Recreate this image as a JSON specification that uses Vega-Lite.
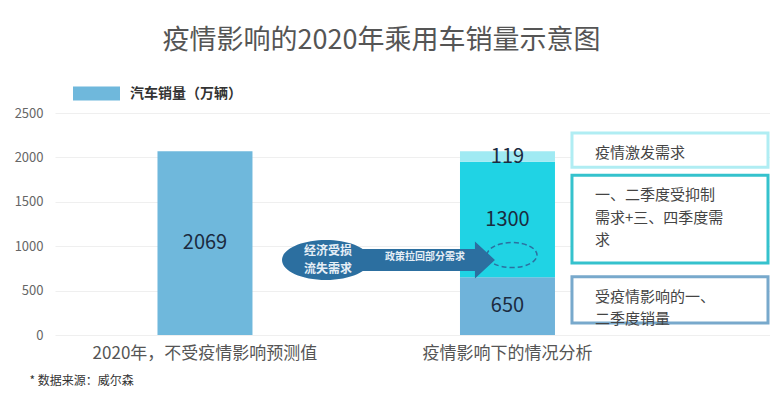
{
  "$schema": "https://vega.github.io/schema/vega-lite/v6.json",
  "width": 715,
  "height": 222,
  "autosize": {"type": "none"},
  "padding": {"left": 55, "top": 113, "right": 0, "bottom": 70},
  "background": "white",
  "config": {
    "font": "Noto Sans CJK SC",
    "view": {"stroke": null},
    "axis": {"labelFont": "Noto Sans CJK SC", "titleFont": "Noto Sans CJK SC"},
    "legend": {"labelFont": "Noto Sans CJK SC"}
  },
  "title": {
    "text": "疫情影响的2020年乘用车销量示意图",
    "fontSize": 27,
    "fontWeight": "normal",
    "color": "#555555",
    "anchor": "middle",
    "dx": -31,
    "offset": 15
  },
  "datasets": {
    "sales": [
      {"category": "2020年，不受疫情影响预测值", "segment": "预测销量", "order": 1, "value": 2069},
      {"category": "疫情影响下的情况分析", "segment": "受疫情影响的一、二季度销量", "order": 1, "value": 650},
      {"category": "疫情影响下的情况分析", "segment": "一、二季度受抑制需求+三、四季度需求", "order": 2, "value": 1300},
      {"category": "疫情影响下的情况分析", "segment": "疫情激发需求", "order": 3, "value": 119}
    ],
    "notes": [
      {"category": "说明", "segment": "疫情激发需求", "note": "疫情激发需求", "low": 1890, "high": 2275},
      {"category": "说明", "segment": "一、二季度受抑制需求+三、四季度需求", "note": "一、二季度受抑制\n需求+三、四季度需\n求", "low": 810, "high": 1800},
      {"category": "说明", "segment": "受疫情影响的一、二季度销量", "note": "受疫情影响的一、\n二季度销量", "low": 135, "high": 655}
    ],
    "arrow": [
      {"category": "政策拉回", "loss": "经济受损\n流失需求", "policy": "政策拉回部分需求"}
    ]
  },
  "layer": [
    {
      "data": {"name": "sales"},
      "transform": [
        {"stack": "value", "groupby": ["category"], "sort": [{"field": "order", "order": "ascending"}], "as": ["v0", "v1"]}
      ],
      "mark": {"type": "bar", "width": {"band": 0.628}},
      "encoding": {
        "x": {
          "field": "category",
          "type": "nominal",
          "sort": null,
          "scale": {
            "domain": ["2020年，不受疫情影响预测值", "政策拉回", "疫情影响下的情况分析", "说明"],
            "paddingInner": 0,
            "paddingOuter": 0.3636,
            "align": 0.676
          },
          "axis": {
            "values": ["2020年，不受疫情影响预测值", "疫情影响下的情况分析"],
            "labelAngle": 0,
            "domain": false,
            "ticks": false,
            "grid": false,
            "labelFontSize": 17,
            "labelColor": "#555555",
            "labelPadding": 10,
            "labelLimit": 400,
            "title": "* 数据来源：威尔森",
            "titleFontSize": 12,
            "titleFontWeight": "normal",
            "titleColor": "#333333",
            "titleAnchor": "start",
            "titleAlign": "left",
            "titleBaseline": "middle",
            "titleX": -26,
            "titleY": 45
          }
        },
        "y": {
          "field": "v0",
          "type": "quantitative",
          "scale": {"domain": [0, 2500], "nice": false},
          "axis": {
            "values": [0, 500, 1000, 1500, 2000, 2500],
            "format": "d",
            "domain": false,
            "ticks": false,
            "grid": true,
            "gridColor": "#efefef",
            "gridWidth": 1,
            "labelFontSize": 13,
            "labelColor": "#666666",
            "labelPadding": 12,
            "title": null
          }
        },
        "y2": {"field": "v1"},
        "color": {
          "field": "segment",
          "type": "nominal",
          "scale": {
            "domain": ["预测销量", "受疫情影响的一、二季度销量", "一、二季度受抑制需求+三、四季度需求", "疫情激发需求"],
            "range": ["#6fb8dc", "#6fb3da", "#20d3e4", "#a0eaf3"]
          },
          "legend": {
            "values": ["预测销量"],
            "labelExpr": "'汽车销量（万辆）'",
            "title": null,
            "orient": "none",
            "legendX": 18,
            "legendY": -43,
            "padding": 0,
            "symbolType": "M-1,-0.3L1,-0.3L1,0.3L-1,0.3Z",
            "symbolSize": 2209,
            "symbolStrokeWidth": 0,
            "symbolOpacity": 1,
            "labelFontSize": 14,
            "labelFontWeight": "bold",
            "labelColor": "#333333",
            "labelOffset": 10
          }
        }
      }
    },
    {
      "data": {"name": "sales"},
      "transform": [
        {"stack": "value", "groupby": ["category"], "sort": [{"field": "order", "order": "ascending"}], "as": ["v0", "v1"]},
        {"calculate": "(datum.v0 + datum.v1) / 2", "as": "mid"}
      ],
      "mark": {"type": "text", "fontSize": 20, "color": "#1b2b40", "baseline": "middle", "align": "center"},
      "encoding": {
        "x": {"field": "category", "type": "nominal"},
        "y": {"field": "mid", "type": "quantitative"},
        "text": {"field": "value", "type": "quantitative"}
      }
    },
    {
      "data": {"name": "arrow"},
      "mark": {
        "type": "point",
        "shape": "M-0.995,0 C-0.995,-0.103 -0.811,-0.187 -0.584,-0.187 C-0.357,-0.187 -0.173,-0.103 -0.173,0 C-0.173,0.103 -0.357,0.187 -0.584,0.187 C-0.811,0.187 -0.995,0.103 -0.995,0 Z M-0.3,-0.103 L0.808,-0.103 L0.808,-0.173 L0.995,0 L0.808,0.173 L0.808,0.103 L-0.3,0.103 Z",
        "size": 45796,
        "filled": true,
        "color": "#2c6fa0",
        "opacity": 1,
        "strokeWidth": 0,
        "xOffset": 32.25
      },
      "encoding": {
        "x": {"field": "category", "type": "nominal"},
        "y": {"datum": 845, "type": "quantitative"}
      }
    },
    {
      "data": {"name": "arrow"},
      "mark": {
        "type": "point",
        "shape": "M-1,0 C-1,-0.276 -0.553,-0.5 0,-0.5 C0.553,-0.5 1,-0.276 1,0 C1,0.276 0.553,0.5 0,0.5 C-0.553,0.5 -1,0.276 -1,0 Z",
        "size": 2500,
        "filled": false,
        "stroke": "#2c6fa0",
        "strokeWidth": 1.5,
        "strokeDash": [5, 3],
        "opacity": 1,
        "xOffset": 155.75
      },
      "encoding": {
        "x": {"field": "category", "type": "nominal"},
        "y": {"datum": 900, "type": "quantitative"}
      }
    },
    {
      "data": {"name": "arrow"},
      "mark": {
        "type": "text",
        "fontSize": 12,
        "fontWeight": "bold",
        "color": "#e6eef6",
        "lineBreak": "\n",
        "lineHeight": 18,
        "align": "center",
        "baseline": "middle",
        "xOffset": -28.25
      },
      "encoding": {
        "x": {"field": "category", "type": "nominal"},
        "y": {"datum": 946, "type": "quantitative"},
        "text": {"field": "loss"}
      }
    },
    {
      "data": {"name": "arrow"},
      "mark": {
        "type": "text",
        "fontSize": 10,
        "fontWeight": "bold",
        "color": "#e6eef6",
        "align": "center",
        "baseline": "middle",
        "xOffset": 68.75
      },
      "encoding": {
        "x": {"field": "category", "type": "nominal"},
        "y": {"datum": 880, "type": "quantitative"},
        "text": {"field": "policy"}
      }
    },
    {
      "data": {"name": "notes"},
      "mark": {"type": "rect", "width": {"band": 1.296}, "xOffset": 11.25, "fill": "white", "strokeWidth": 3},
      "encoding": {
        "x": {"field": "category", "type": "nominal"},
        "y": {"field": "low", "type": "quantitative"},
        "y2": {"field": "high"},
        "stroke": {
          "field": "segment",
          "type": "nominal",
          "scale": {
            "domain": ["疫情激发需求", "一、二季度受抑制需求+三、四季度需求", "受疫情影响的一、二季度销量"],
            "range": ["#b0edf3", "#35c2cd", "#78a9cc"]
          },
          "legend": null
        }
      }
    },
    {
      "data": {"name": "notes"},
      "mark": {
        "type": "text",
        "fontSize": 15,
        "color": "#444444",
        "lineBreak": "\n",
        "lineHeight": 22.5,
        "align": "left",
        "baseline": "middle",
        "xOffset": -63.75,
        "yOffset": 20
      },
      "encoding": {
        "x": {"field": "category", "type": "nominal"},
        "y": {"field": "high", "type": "quantitative"},
        "text": {"field": "note"}
      }
    }
  ]
}
